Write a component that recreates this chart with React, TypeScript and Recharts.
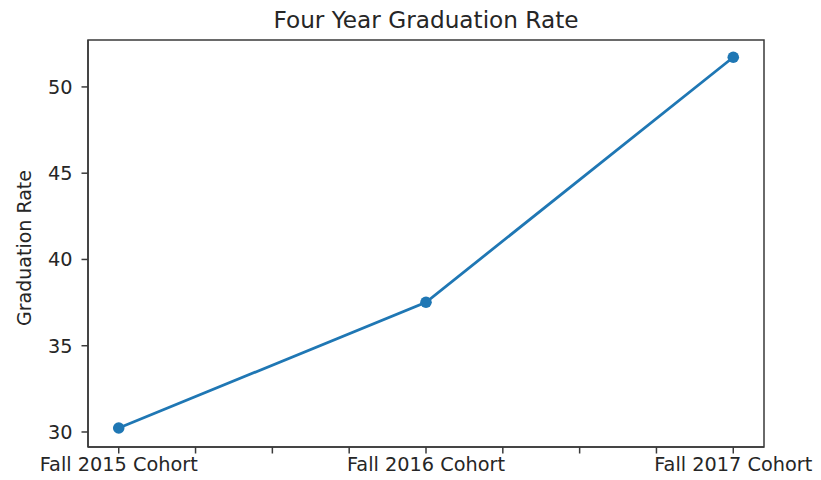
import React from 'react';
import { LineChart, Line, XAxis, YAxis, Label, ReferenceArea } from 'recharts';

const cohorts = ['Fall 2015 Cohort', 'Fall 2016 Cohort', 'Fall 2017 Cohort'];
const rates = [30.23, 37.52, 51.72];
const yTicks = [30, 35, 40, 45, 50];
const xTicks = [0, 0.25, 0.5, 0.75, 1, 1.25, 1.5, 1.75, 2];

const data = cohorts.map((name, i) => ({ idx: i, name, rate: rates[i] }));

const X_DOMAIN: [number, number] = [-0.1, 2.1];
const Y_DOMAIN: [number, number] = [29.13, 52.72];

const FONT = '"DejaVu Sans", sans-serif';
const TEXT = '#262626';
const AXIS = '#3a3a3a';
const BLUE = '#1f77b4';

const App: React.FC = () => {
  const tickStyle = { fontFamily: FONT, fontSize: 19.3, fill: TEXT };

  return (
    <div style={{ width: 821, height: 480, background: '#fff', position: 'relative' }}>
      <style>{`body{margin:0}`}</style>
      <div
        style={{
          position: 'absolute',
          top: 0,
          left: 0,
          width: 852,
          textAlign: 'center',
          fontFamily: FONT,
          fontSize: 23.2,
          lineHeight: '40px',
          color: TEXT,
        }}
      >
        Four Year Graduation Rate
      </div>
      <LineChart width={821} height={480} data={data} margin={{ top: 40, right: 57, bottom: 0, left: 0 }}>
        <XAxis
          dataKey="idx"
          type="number"
          domain={X_DOMAIN}
          ticks={xTicks}
          interval={0}
          allowDataOverflow
          height={33}
          stroke={AXIS}
          strokeWidth={1.5}
          tickSize={6.5}
          tickMargin={4}
          tick={tickStyle}
          tickFormatter={(v: number) => (Number.isInteger(v) ? cohorts[v] : '')}
        />
        <YAxis
          type="number"
          domain={Y_DOMAIN}
          ticks={yTicks}
          allowDataOverflow
          width={88}
          stroke={AXIS}
          strokeWidth={1.5}
          tickSize={6.5}
          tickMargin={9}
          tick={tickStyle}
        >
          <Label
            content={() => (
              <text
                x={31}
                y={248}
                transform="rotate(-90 31 248)"
                textAnchor="middle"
                fontFamily={FONT}
                fontSize={19}
                fill={TEXT}
              >
                Graduation Rate
              </text>
            )}
          />
        </YAxis>
        {/* frame around the plot area */}
        <ReferenceArea
          x1={X_DOMAIN[0]}
          x2={X_DOMAIN[1]}
          y1={Y_DOMAIN[0]}
          y2={Y_DOMAIN[1]}
          fill="none"
          fillOpacity={0}
          stroke={AXIS}
          strokeWidth={1.5}
          ifOverflow="visible"
        />
        <Line
          type="linear"
          dataKey="rate"
          stroke={BLUE}
          strokeWidth={2.8}
          dot={{ r: 5.8, fill: BLUE, stroke: BLUE, strokeWidth: 0 }}
          activeDot={false}
          isAnimationActive={false}
        />
      </LineChart>
    </div>
  );
};

export default App;
